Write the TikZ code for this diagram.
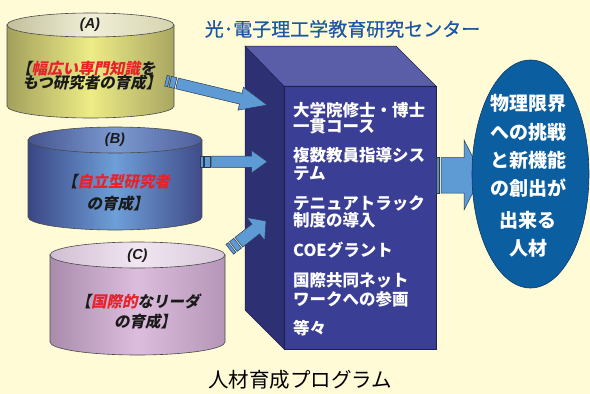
\documentclass[tikz,border=0pt]{standalone}
\usepackage{fontspec}
\newfontfamily\jp{Noto Sans CJK JP}
\newfontfamily\jpmed{Noto Sans CJK JP}[FakeBold=0.5]
\newfontfamily\jpsl{Noto Sans CJK JP}[FakeSlant=0.2]
\newfontfamily\latsl{Liberation Sans}
\definecolor{bg}{HTML}{FFFBD7}
\definecolor{boxfront}{HTML}{3A3E94}
\definecolor{boxside}{HTML}{2D3073}
\definecolor{boxtop}{HTML}{5A5EA8}
\definecolor{boxline}{HTML}{1E2050}
\definecolor{arrowblue}{HTML}{5E9BD5}
\definecolor{arrowline}{HTML}{2A3A55}
\definecolor{ovalblue}{HTML}{0B5FA0}
\definecolor{ovalline}{HTML}{0A3A6A}
\definecolor{titleblue}{HTML}{1D56A5}
\definecolor{redt}{HTML}{E6222B}
\definecolor{cyldark}{HTML}{1A1A1A}
\definecolor{cylgray}{HTML}{4A4A4A}
% cylinder A
\definecolor{Abl}{HTML}{A3A05C}\definecolor{Abm}{HTML}{EDEC86}\definecolor{Abr}{HTML}{A9A662}
\definecolor{Atl}{HTML}{C2C09A}\definecolor{Atm}{HTML}{F0EFD8}\definecolor{Atr}{HTML}{D6D4AE}
% cylinder B
\definecolor{Bbl}{HTML}{3B4684}\definecolor{Bbm}{HTML}{6E9FD8}\definecolor{Bbr}{HTML}{3F4B88}
\definecolor{Btl}{HTML}{45538F}\definecolor{Btm}{HTML}{7B9AD0}\definecolor{Btr}{HTML}{4F5E9C}
% cylinder C
\definecolor{Cbl}{HTML}{A98CAC}\definecolor{Cbm}{HTML}{DDBDDD}\definecolor{Cbr}{HTML}{B696B8}
\definecolor{Ctl}{HTML}{D0BED2}\definecolor{Ctm}{HTML}{F2E6F2}\definecolor{Ctr}{HTML}{D8C8DA}

\newcommand\mycyl[6]{% x0 x1 ytop ybot ry prefix
  \pgfmathsetmacro\mcx{(#1+#2)/2}%
  \pgfmathsetmacro\mrx{(#2-#1)/2}%
  \pgfmathsetmacro\mkx{0.5523*\mrx}%
  \pgfmathsetmacro\mky{0.5523*#5}%
  \pgfmathsetmacro\myb{#4+#5}%
  \path[cylline, left color=#6bl, right color=#6br, middle color=#6bm]
    (#1,#3) -- (#1,#4) .. controls (#1,#4+\mky) and (\mcx-\mkx,\myb) .. (\mcx,\myb)
    .. controls (\mcx+\mkx,\myb) and (#2,#4+\mky) .. (#2,#4) -- (#2,#3) -- cycle;
  \path[cylline, left color=#6tl, right color=#6tr, middle color=#6tm]
    (\mcx,#3) ellipse [x radius=\mrx, y radius=#5];
}
\newcommand\sarrow[7]{% tipx tipy angle length headlen headhalf shafthalf
  \begin{scope}[shift={(#1,#2)}, rotate=#3]
    \path[arr] (-#4,-#7) rectangle (-#4+3,#7);
    \path[arr] (-#4+4.5,-#7) rectangle (-#4+10,#7);
    \path[arr] (-#4+11.5,-#7) -- (-#5,-#7) -- (-#5,-#6) -- (0,0) -- (-#5,#6)
      -- (-#5,#7) -- (-#4+11.5,#7) -- cycle;
  \end{scope}
}

\begin{document}
\begin{tikzpicture}[x=1pt,y=-1pt,
  cylline/.style={draw=cylgray,line width=0.6pt},
  arr/.style={fill=arrowblue,draw=arrowline,line width=0.5pt,line join=miter},
  boxtxt/.style={inner sep=0pt,anchor=base west,text=white,font=\jp\bfseries\fontsize{16.5pt}{18pt}\selectfont},
  ovtxt/.style={inner sep=0pt,anchor=base,text=white,font=\jp\bfseries\fontsize{19pt}{21pt}\selectfont},
  cyltxt/.style={inner sep=0pt,anchor=base,text=cyldark,font=\jpsl\bfseries\fontsize{15.5pt}{17pt}\selectfont},
  cyllab/.style={inner sep=0pt,anchor=base,text=cyldark,font=\latsl\bfseries\itshape\fontsize{14.5pt}{16pt}\selectfont},
]
\fill[bg] (0,0) rectangle (590,394);
\useasboundingbox (0,0) rectangle (590,394);

% title
\node[inner sep=0pt,anchor=base,text=titleblue,font=\jpmed\fontsize{19pt}{21pt}\selectfont] (title) at (342.5,36.2) {光･電子理工学教育研究センター};

% 3D box
\path[fill=boxside,draw=boxline,line width=0.5pt] (245,46) -- (284,86) -- (284,349) -- (245,310) -- cycle;
\path[fill=boxtop,draw=boxline,line width=0.5pt] (245,46) -- (396,46) -- (436,86) -- (284,86) -- cycle;
\path[fill=boxfront,draw=boxline,line width=0.5pt] (284,86) rectangle (436,349);

% box texts
\node[boxtxt] (b1) at (293,116.3) {大学院修士・博士};
\node[boxtxt] (b2) at (293,132.8) {一貫コース};
\node[boxtxt] (b3) at (293,161.8) {複数教員指導シス};
\node[boxtxt] (b4) at (293,179.3) {テム};
\node[boxtxt] (b5) at (293,209.8) {テニュアトラック};
\node[boxtxt] (b6) at (293,226.3) {制度の導入};
\node[boxtxt] (b7) at (293,256.3) {COEグラント};
\node[boxtxt] (b8) at (293,286.3) {国際共同ネット};
\node[boxtxt] (b9) at (293,305.3) {ワークへの参画};
\node[boxtxt] (b10) at (293,334.8) {等々};

% cylinders
\mycyl{7}{174}{25}{106}{12}{A}
\mycyl{28}{202}{140}{217}{13}{B}
\mycyl{50}{225}{255}{342}{13}{C}

\node[cyllab] (la) at (90,28.8) {(A)};
\node[cyltxt] (a1) at (86,74.4) {【\textcolor{redt}{幅広い専門知識}を};
\node[cyltxt] (a2) at (92,88.4) {もつ研究者の育成】};

\node[cyllab] (lb) at (115,143.3) {(B)};
\node[cyltxt] (bb1) at (116,187.4) {【\textcolor{redt}{自立型研究者}};
\node[cyltxt] (bb2) at (117.5,209.4) {の育成】};

\node[cyllab] (lc) at (137.5,259.3) {(C)};
\node[cyltxt] (c1) at (137.5,307.4) {【\textcolor{redt}{国際的}なリーダ};
\node[cyltxt] (c2) at (145,327.4) {の育成】};

% left arrows
\sarrow{267}{105}{-13.5}{104}{27}{11.8}{5.5}
\sarrow{267.3}{161.7}{0}{67.3}{15.6}{11.2}{5.7}
\sarrow{266}{221}{38}{46}{13}{14.5}{6.2}

% right arrow
\path[fill=arrowblue!70!black!80,draw=arrowline,line width=0.5pt] (436,157.5) rectangle (439.5,193);
\path[arr] (441,157.5) -- (464,157.5) -- (464,140) -- (482,175) -- (464,210) -- (464,193) -- (441,193) -- cycle;

% oval
\path[fill=ovalblue,draw=ovalline,line width=0.6pt] (530.5,174) ellipse [x radius=58.5, y radius=114];
\node[ovtxt] (o1) at (528,110.2) {物理限界};
\node[ovtxt] (o2) at (528,139.2) {への挑戦};
\node[ovtxt] (o3) at (528,167.2) {と新機能};
\node[ovtxt] (o4) at (528,195.2) {の創出が};
\node[ovtxt] (o5) at (528,227.2) {出来る};
\node[ovtxt] (o6) at (528,255.2) {人材};

% caption
\node[inner sep=0pt,anchor=base,text=black,font=\jp\fontsize{20.5pt}{22pt}\selectfont] (cap) at (300,387.8) {人材育成プログラム};
\end{tikzpicture}
\end{document}
